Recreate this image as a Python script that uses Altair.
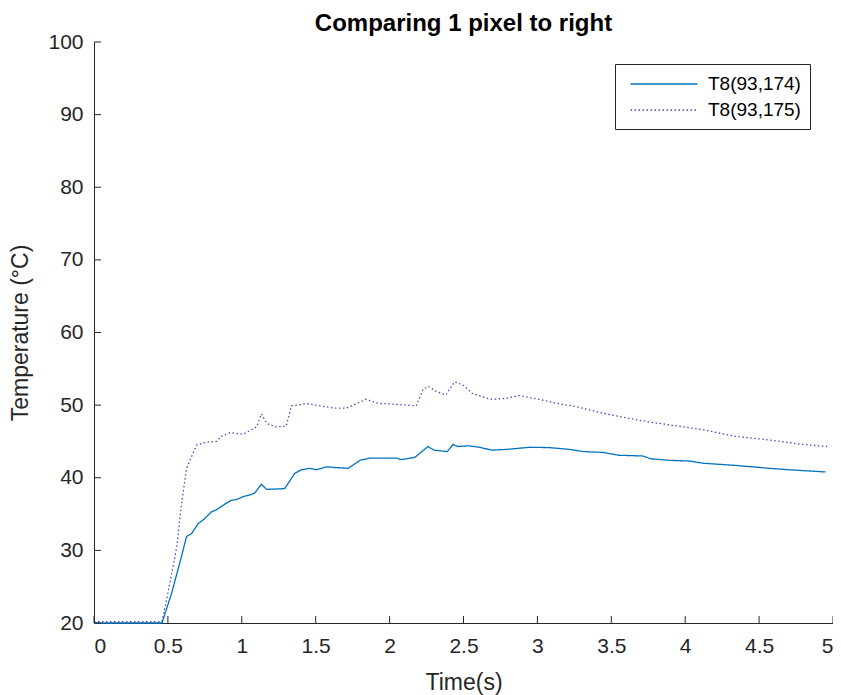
import altair as alt
import pandas as pd

# Series 1: T8(93,174) — solid
t_a = [0, 0.46, 0.525, 0.59, 0.626, 0.66, 0.705, 0.739, 0.795, 0.829, 0.88, 0.93, 0.964, 1.009,
       1.05, 1.088, 1.133, 1.167, 1.29, 1.358, 1.403, 1.459, 1.505, 1.572, 1.64, 1.72, 1.80,
       1.865, 1.93, 2.045, 2.08, 2.17, 2.26, 2.30, 2.39, 2.43, 2.46, 2.53, 2.61, 2.69, 2.79,
       2.95, 3.08, 3.22, 3.31, 3.44, 3.55, 3.71, 3.77, 3.89, 4.03, 4.12, 4.34, 4.57, 4.70, 4.95]
v_a = [20, 20, 24.1, 29.0, 31.9, 32.3, 33.7, 34.2, 35.3, 35.6, 36.3, 36.9, 37.0, 37.4,
       37.6, 37.9, 39.1, 38.4, 38.5, 40.6, 41.1, 41.3, 41.1, 41.5, 41.4, 41.3, 42.4,
       42.7, 42.7, 42.7, 42.5, 42.8, 44.3, 43.8, 43.6, 44.6, 44.3, 44.4, 44.2, 43.8, 43.9,
       44.2, 44.15, 43.9, 43.6, 43.5, 43.1, 43.0, 42.6, 42.4, 42.3, 42.0, 41.7, 41.3, 41.1, 40.8]

# Series 2: T8(93,175) — dotted
t_b = [0, 0.46, 0.50, 0.56, 0.59, 0.626, 0.66, 0.694, 0.76, 0.83, 0.86, 0.92, 1.009, 1.10,
       1.133, 1.167, 1.23, 1.30, 1.336, 1.44, 1.53, 1.62, 1.71, 1.775, 1.84, 1.93, 1.98,
       2.18, 2.225, 2.26, 2.315, 2.38, 2.44, 2.495, 2.56, 2.68, 2.77, 2.88, 3.01, 3.13,
       3.26, 3.44, 3.67, 3.78, 3.89, 4.12, 4.34, 4.57, 4.79, 4.96]
v_b = [20.2, 20.2, 24.1, 30.5, 36.0, 41.3, 42.9, 44.5, 44.9, 45.0, 45.7, 46.2, 46.0, 47.0,
       48.8, 47.5, 47.0, 47.1, 49.9, 50.2, 49.9, 49.6, 49.6, 50.2, 50.8, 50.2, 50.2,
       49.9, 52.1, 52.6, 51.9, 51.4, 53.2, 52.8, 51.6, 50.8, 50.9, 51.3, 50.8, 50.25,
       49.8, 48.9, 48.0, 47.6, 47.3, 46.6, 45.7, 45.2, 44.6, 44.3]

series_names = ["T8(93,174)", "T8(93,175)"]
series_colors = ["#0072BD", "#4a4ac0"]

x_ticks = [0, 0.5, 1, 1.5, 2, 2.5, 3, 3.5, 4, 4.5, 5]
y_ticks = [20, 30, 40, 50, 60, 70, 80, 90, 100]

df = pd.concat([
    pd.DataFrame({"t": t_a, "v": v_a, "s": series_names[0]}),
    pd.DataFrame({"t": t_b, "v": v_b, "s": series_names[1]}),
])

W, H = 739, 581
FONT = "Liberation Sans"
AX = "#262626"

xscale = alt.Scale(domain=[0, 5], nice=False, zero=False)
yscale = alt.Scale(domain=[20, 100], nice=False, zero=False)

axis_common = dict(tickSize=0, grid=False, domainColor=AX, domainWidth=1,
                   labelColor=AX, titleColor=AX, labelFont=FONT, titleFont=FONT,
                   labelFontSize=21, titleFontSize=23, titleFontWeight="normal")
xaxis = alt.Axis(title="Time(s)", values=x_ticks, labelPadding=12, titlePadding=15,
                 format="~g", **axis_common)
yaxis = alt.Axis(title="Temperature (°C)", values=y_ticks, labelPadding=11,
                 titlePadding=15, format="d", **axis_common)

legend_common = dict(title=None, orient="none", legendX=521, legendY=22,
                     symbolType="M-3.3,0H3.3", symbolSize=412,
                     symbolStrokeWidth=1.3, labelFontSize=19,
                     labelFont=FONT, labelColor="#000000",
                     padding=9, rowPadding=5, symbolOffset=29, labelOffset=33,
                     strokeColor=AX, fillColor="white")

lines = alt.Chart(df).mark_line(strokeWidth=1.3).encode(
    x=alt.X("t:Q", scale=xscale, axis=xaxis),
    y=alt.Y("v:Q", scale=yscale, axis=yaxis),
    color=alt.Color("s:N", scale=alt.Scale(domain=series_names, range=series_colors),
                    legend=alt.Legend(**legend_common)),
    strokeDash=alt.StrokeDash("s:N", scale=alt.Scale(domain=series_names, range=[[1, 0], [1.5, 2.5]]),
                              legend=alt.Legend(**legend_common)),
)

xt = alt.Chart(pd.DataFrame({"t": x_ticks})).mark_rule(color=AX, strokeWidth=1).encode(
    x=alt.X("t:Q", scale=xscale, axis=xaxis), y=alt.value(H), y2=alt.value(H - 7))
yt = alt.Chart(pd.DataFrame({"v": y_ticks})).mark_rule(color=AX, strokeWidth=1).encode(
    y=alt.Y("v:Q", scale=yscale, axis=yaxis), x=alt.value(0), x2=alt.value(7))

chart = alt.layer(lines, xt, yt).properties(
    width=W, height=H,
    title=alt.TitleParams("Comparing 1 pixel to right", fontSize=24, font=FONT,
                          fontWeight="bold", color="#000000", anchor="middle",
                          offset=0, dy=5),
    autosize=alt.AutoSizeParams(type="none"),
    padding={"left": 86, "top": 34, "right": 0, "bottom": 72},
    background="white",
).configure_view(stroke=None)

chart.save("out.html", embed_options={"renderer": "svg", "actions": False})
